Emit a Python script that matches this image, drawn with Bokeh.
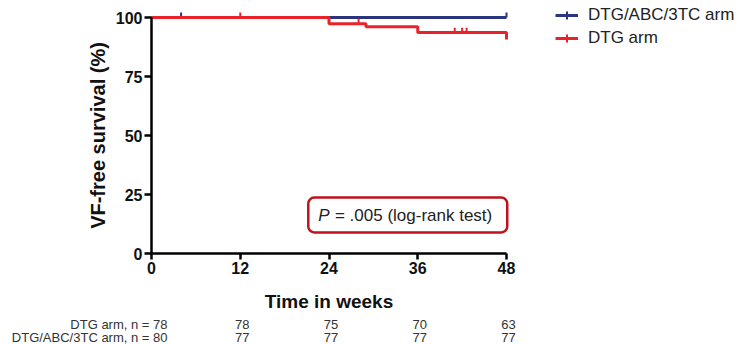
from bokeh.plotting import figure
from bokeh.models import Range1d, Legend, LegendItem, Label, BoxAnnotation, FixedTicker
from bokeh.core.properties import value
from bokeh.embed import file_html
from bokeh.resources import INLINE

# ---- data ----
weeks_ticks = [0, 12, 24, 36, 48]
y_ticks = [0, 25, 50, 75, 100]

dtg_abc_t = [0, 48]
dtg_abc_s = [100, 100]
dtg_abc_cens_t = [4, 48]
dtg_abc_cens_s = [100, 100]

dtg_t = [0, 24, 29, 36, 48]
dtg_s = [100, 97.4, 96.1, 93.6, 90.7]
dtg_cens_t = [12, 28, 41, 42, 42.6]
dtg_cens_s = [100, 97.4, 93.6, 93.6, 93.6]

risk_weeks = [12, 24, 36, 48]
risk_dtg = ["78", "75", "70", "63"]
risk_dtg_abc = ["77", "77", "77", "77"]
risk_row_labels = ["DTG arm, n = 78", "DTG/ABC/3TC arm, n = 80"]

p_text_italic = "P"
p_text_rest = "= .005 (log-rank test)"

BLUE = "#2a3580"
RED = "#e8232b"
FONT = "Liberation Sans"

W, H = 749, 344
X0_PX, X48_PX = 151, 506      # pixel of week 0 / week 48
Y0_PX, Y100_PX = 253, 17      # pixel of 0 % / 100 %
pxw = (X48_PX - X0_PX) / 48.0
pxy = (Y0_PX - Y100_PX) / 100.0

p = figure(width=W, height=H, output_backend="svg", toolbar_location=None,
           x_range=Range1d(-X0_PX / pxw, (W - X0_PX) / pxw),
           y_range=Range1d(-(H - Y0_PX) / pxy, Y0_PX / pxy),
           min_border=0)
p.outline_line_color = None
p.grid.grid_line_color = None

p.xaxis.fixed_location = 0
p.yaxis.fixed_location = 0
p.xaxis.bounds = (0, 48)
p.yaxis.bounds = (0, 100)

for ax in (p.xaxis[0], p.yaxis[0]):
    ax.axis_line_width = 2.5
    ax.axis_line_color = "black"
    ax.major_tick_line_width = 2.5
    ax.major_tick_line_color = "black"
    ax.minor_tick_line_color = None
    ax.major_tick_in = 0
    ax.major_label_text_font = FONT
    ax.major_label_text_font_style = "bold"
    ax.major_label_text_font_size = "16px"
    ax.major_label_text_color = "#111111"
    ax.axis_label_text_font = FONT
    ax.axis_label_text_font_style = "bold"
    ax.axis_label_text_color = "#111111"

p.xaxis.ticker = FixedTicker(ticks=weeks_ticks)
p.yaxis.ticker = FixedTicker(ticks=y_ticks)
p.xaxis.major_tick_out = 6
p.yaxis.major_tick_out = 7
p.xaxis.major_label_standoff = 2
p.yaxis.major_label_standoff = 2
p.xaxis.axis_label = "Time in weeks"
p.xaxis.axis_label_text_font_size = "19px"
p.xaxis.axis_label_standoff = 14
p.yaxis.axis_label = "VF-free survival (%)"
p.yaxis.axis_label_text_font_size = "20px"
p.yaxis.axis_label_standoff = 4

tick_h = 2.1
# blue arm
b_line = p.step(dtg_abc_t, dtg_abc_s, mode="after", line_color=BLUE, line_width=3)
p.segment(x0=dtg_abc_cens_t, y0=dtg_abc_cens_s, x1=dtg_abc_cens_t,
          y1=[s + tick_h for s in dtg_abc_cens_s], line_color=BLUE, line_width=2)
# red arm
r_line = p.step(dtg_t, dtg_s, mode="after", line_color=RED, line_width=3)
p.segment(x0=dtg_cens_t, y0=dtg_cens_s, x1=dtg_cens_t,
          y1=[s + tick_h for s in dtg_cens_s], line_color=RED, line_width=2)

# legend marker ticks (renderers without visible points, used only for legend glyphs)
nan = float("nan")
b_tick = p.scatter(x=[nan], y=[nan], marker="cross", size=7, line_color=BLUE, line_width=2)
r_tick = p.scatter(x=[nan], y=[nan], marker="cross", size=7, line_color=RED, line_width=2)

legend = Legend(items=[LegendItem(label="DTG/ABC/3TC arm", renderers=[b_line, b_tick]),
                       LegendItem(label="DTG arm", renderers=[r_line, r_tick])],
                location=(555, H - 48), orientation="vertical",
                background_fill_alpha=0, border_line_color=None,
                padding=0, margin=0, spacing=3, glyph_width=23, glyph_height=20,
                label_height=20, label_standoff=10,
                label_text_font=FONT, label_text_font_size="17px", label_text_color="#222222")
p.add_layout(legend)

# p-value box
box = BoxAnnotation(left=21.2, right=48.1, bottom=8.9, top=23.7,
                    fill_color="white", fill_alpha=1.0,
                    line_color="#c0121c", line_alpha=1.0, line_width=2.5, border_radius=6)
p.add_layout(box)
p.add_layout(Label(x=22.55, y=16.3, text=p_text_italic, text_font=FONT, text_font_style="italic",
                   text_font_size="17px", text_color="#222222", text_baseline="middle"))
p.add_layout(Label(x=24.8, y=16.3, text=p_text_rest, text_font=FONT,
                   text_font_size="17px", text_color="#222222", text_baseline="middle"))

# number-at-risk table
TFONT = value("Liberation Sans")
row_y = [-(324 - Y0_PX) / pxy, -(337 - Y0_PX) / pxy]
p.text(x=risk_weeks, y=[row_y[0]] * len(risk_weeks), text=risk_dtg, text_font=TFONT,
       text_font_size="13px", text_color="#333333", text_align="center", text_baseline="middle",
       x_offset=2)
p.text(x=risk_weeks, y=[row_y[1]] * len(risk_weeks), text=risk_dtg_abc, text_font=TFONT,
       text_font_size="13px", text_color="#333333", text_align="center", text_baseline="middle",
       x_offset=2)
p.text(x=[16 / pxw] * 2, y=row_y, text=risk_row_labels, text_font=TFONT,
       text_font_size="13px", text_color="#333333", text_align="right", text_baseline="middle")

open("out.html", "w").write(file_html(p, INLINE))
